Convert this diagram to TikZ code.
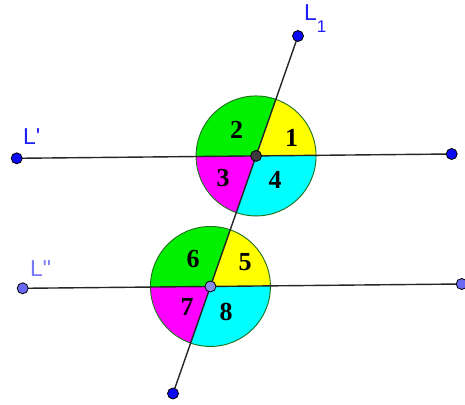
\documentclass[tikz,border=0pt]{standalone}
\usepackage{fontspec}
\setmainfont{Liberation Serif}
\newfontfamily\labelfont{Liberation Sans}
\usepackage{xcolor}
\usepackage{tikz}
\usetikzlibrary{calc}
\definecolor{ptblue}{RGB}{10,10,245}
\definecolor{ptlight}{RGB}{105,105,245}
\definecolor{ptdark}{RGB}{60,60,60}
\definecolor{ptlav}{RGB}{140,140,235}
\definecolor{secgreen}{RGB}{0,240,0}
\definecolor{secyellow}{RGB}{255,255,0}
\definecolor{secmagenta}{RGB}{255,0,255}
\definecolor{seccyan}{RGB}{0,255,255}
\definecolor{rimgreen}{RGB}{30,110,30}
\definecolor{lblblue}{RGB}{30,30,250}
\definecolor{lbllight}{RGB}{120,120,250}

\begin{document}
\begin{tikzpicture}[x=1pt,y=1pt,
  pt/.style={circle,draw=black,line width=0.8pt,inner sep=0pt,minimum size=11pt},
  ln/.style={line width=1.4pt,draw=black!85},
  num/.style={font=\fontsize{26}{26}\selectfont\bfseries,inner sep=0pt},
  lbl/.style={font=\labelfont\fontsize{23}{23}\selectfont,anchor=base west,inner sep=0pt}]
  \useasboundingbox (0,0) rectangle (465,404);
  \coordinate (t) at (298,368); \coordinate (b) at (173,10.5);
  \coordinate (a1) at (16.7,245.7); \coordinate (a2) at (451.7,250);
  \coordinate (c1) at (22.7,115.7); \coordinate (c2) at (461.7,120);
  \coordinate (o1) at (intersection of t--b and a1--a2);
  \coordinate (o2) at (intersection of t--b and c1--c2);
  \foreach \o in {o1,o2}{
    \foreach \s/\e/\c in {0.57/70.73/secyellow,70.73/180.57/secgreen,180.57/250.73/secmagenta,250.73/360.57/seccyan}
      \fill[\c] (\o) -- ($(\o)+(\s:60)$) arc[start angle=\s,end angle=\e,radius=60] -- cycle;
    \draw[rimgreen,line width=0.9pt] (\o) circle[radius=60];
  }
  \draw[ln] (a1) -- (a2); \draw[ln] (c1) -- (c2); \draw[ln] (t) -- (b);
  \foreach \n/\dx/\dy in {1/35.6/18,2/-19.4/26,3/-33/-22,4/19/-24}
    \node[num] (n\n) at ($(o1)+(\dx,\dy)$) {\n};
  \foreach \n/\dx/\dy in {5/34.6/24.5,6/-17.4/27.5,7/-23.4/-20.5,8/15.6/-25.5}
    \node[num] (n\n) at ($(o2)+(\dx,\dy)$) {\n};
  \node[pt,fill=ptblue] (pt) at (t) {}; \node[pt,fill=ptblue] (pb) at (b) {};
  \node[pt,fill=ptblue] (pa1) at (a1) {}; \node[pt,fill=ptblue] (pa2) at (a2) {};
  \node[pt,fill=ptlight] (pc1) at (c1) {}; \node[pt,fill=ptlight] (pc2) at (c2) {};
  \node[pt,fill=ptdark] (po1) at (o1) {}; \node[pt,fill=ptlav] (po2) at (o2) {};
  \node[lbl,text=lblblue] (l1) at (304,383) {L\raisebox{-12pt}{\fontsize{17}{17}\selectfont 1}};
  \node[lbl,text=lblblue] (lp) at (23,259) {L\textquotesingle};
  \node[lbl,text=lbllight] (lpp) at (30,127) {L\textquotedbl};
\end{tikzpicture}
\end{document}
